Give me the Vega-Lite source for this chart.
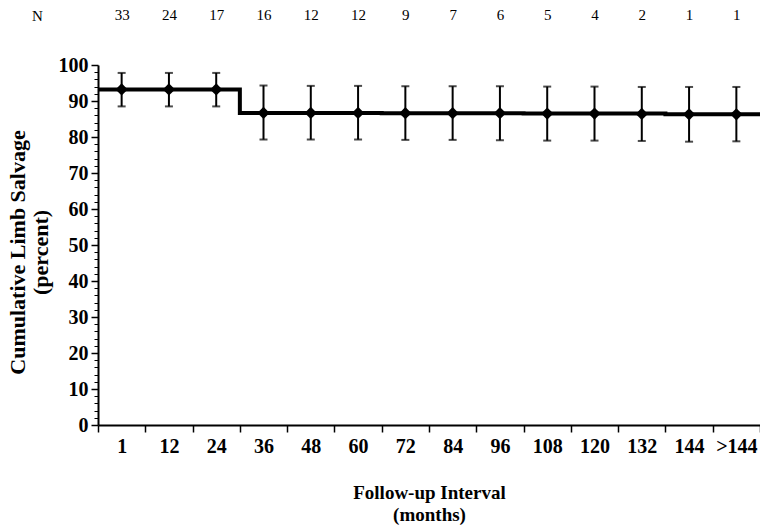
{
  "$schema": "https://vega.github.io/schema/vega-lite/v6.json",
  "width": 662,
  "height": 360,
  "autosize": "none",
  "padding": {"left": 98, "top": 65, "right": 0, "bottom": 102},
  "background": "white",
  "config": {
    "view": {"stroke": null},
    "font": "Liberation Serif",
    "axis": {"domainColor": "black", "tickColor": "black", "labelColor": "black", "titleColor": "black", "grid": false, "labelFont": "Liberation Serif", "titleFont": "Liberation Serif"}
  },
  "datasets": {
    "pts": [
      {"idx": 0, "interval": "1", "n": 33, "pct": 93.2, "lo": 88.5, "hi": 97.8},
      {"idx": 1, "interval": "12", "n": 24, "pct": 93.2, "lo": 88.5, "hi": 97.8},
      {"idx": 2, "interval": "24", "n": 17, "pct": 93.2, "lo": 88.5, "hi": 97.8},
      {"idx": 3, "interval": "36", "n": 16, "pct": 86.7, "lo": 79.3, "hi": 94.3},
      {"idx": 4, "interval": "48", "n": 12, "pct": 86.7, "lo": 79.3, "hi": 94.2},
      {"idx": 5, "interval": "60", "n": 12, "pct": 86.7, "lo": 79.3, "hi": 94.2},
      {"idx": 6, "interval": "72", "n": 9, "pct": 86.6, "lo": 79.2, "hi": 94.1},
      {"idx": 7, "interval": "84", "n": 7, "pct": 86.6, "lo": 79.2, "hi": 94.1},
      {"idx": 8, "interval": "96", "n": 6, "pct": 86.6, "lo": 79.1, "hi": 94.1},
      {"idx": 9, "interval": "108", "n": 5, "pct": 86.5, "lo": 79.0, "hi": 94.0},
      {"idx": 10, "interval": "120", "n": 4, "pct": 86.5, "lo": 79.0, "hi": 94.0},
      {"idx": 11, "interval": "132", "n": 2, "pct": 86.4, "lo": 78.9, "hi": 93.9},
      {"idx": 12, "interval": "144", "n": 1, "pct": 86.3, "lo": 78.7, "hi": 93.9},
      {"idx": 13, "interval": ">144", "n": 1, "pct": 86.3, "lo": 78.8, "hi": 93.9}
    ],
    "curve": [
      {"t": -0.5, "s": 93.2},
      {"t": 2.5, "s": 86.7},
      {"t": 5.5, "s": 86.6},
      {"t": 8.5, "s": 86.5},
      {"t": 11.5, "s": 86.3},
      {"t": 13.5, "s": 86.3}
    ]
  },
  "resolve": {"axis": {"x": "independent", "y": "independent"}},
  "layer": [
    {
      "data": {"name": "curve"},
      "mark": {"type": "line", "interpolate": "step-after", "color": "black", "strokeWidth": 4},
      "encoding": {
        "x": {"field": "t", "type": "quantitative", "scale": {"domain": [-0.5, 13.5], "nice": false, "zero": false},
          "axis": {"orient": "bottom", "values": [0,1,2,3,4,5,6,7,8,9,10,11,12,13],
            "labelExpr": "['1','12','24','36','48','60','72','84','96','108','120','132','144','>144'][datum.value]",
            "ticks": false, "domain": true, "domainWidth": 2, "labelFontSize": 20, "labelFontWeight": "bold", "labelPadding": 11,
            "title": ["Follow-up Interval", "(months)"], "titleFontSize": 19, "titleFontWeight": "bold", "titleLineHeight": 22,
            "titleX": 331, "titleY": 67, "titleBaseline": "middle", "titleAlign": "center"}},
        "y": {"field": "s", "type": "quantitative", "scale": {"domain": [0, 100], "nice": false},
          "axis": {"orient": "left", "values": [0,10,20,30,40,50,60,70,80,90,100], "tickSize": 7, "tickWidth": 1.5, "domainWidth": 2,
            "labelFontSize": 20, "labelFontWeight": "bold", "labelPadding": 3,
            "title": ["Cumulative Limb Salvage", "(percent)"], "titleFontSize": 22, "titleFontWeight": "bold", "titleLineHeight": 23,
            "titleAngle": -90, "titleX": -81, "titleY": 187, "titleBaseline": "middle", "titleAlign": "center"}}
      }
    },
    {
      "data": {"name": "pts"},
      "mark": {"type": "rule", "color": "black", "strokeWidth": 2},
      "encoding": {
        "x": {"field": "idx", "type": "quantitative",
          "axis": {"orient": "bottom", "values": [-0.5,0.5,1.5,2.5,3.5,4.5,5.5,6.5,7.5,8.5,9.5,10.5,11.5,12.5,13.5],
            "labels": false, "domain": false, "ticks": true, "tickSize": 7, "tickWidth": 1.5, "title": null}},
        "y": {"field": "lo", "type": "quantitative",
          "axis": {"orient": "left", "values": [2,4,6,8,12,14,16,18,22,24,26,28,32,34,36,38,42,44,46,48,52,54,56,58,62,64,66,68,72,74,76,78,82,84,86,88,92,94,96,98],
            "labels": false, "domain": false, "tickSize": 4, "tickWidth": 1, "title": null}},
        "y2": {"field": "hi"}
      }
    },
    {
      "data": {"name": "pts"},
      "mark": {"type": "point", "shape": "diamond", "filled": true, "color": "black", "size": 150, "opacity": 1},
      "encoding": {
        "x": {"field": "idx", "type": "quantitative",
          "axis": {"orient": "top", "values": [0,1,2,3,4,5,6,7,8,9,10,11,12,13],
            "labelExpr": "['33','24','17','16','12','12','9','7','6','5','4','2','1','1'][datum.value]",
            "domain": false, "ticks": false, "labelFontSize": 15, "labelPadding": 43,
            "title": "N", "titleFontSize": 15, "titleFontWeight": "normal", "titleAngle": 0, "titleX": -61, "titleY": -50, "titleBaseline": "middle", "titleAlign": "center"}},
        "y": {"field": "pct", "type": "quantitative", "axis": null}
      }
    },
    {
      "data": {"name": "pts"},
      "mark": {"type": "tick", "orient": "horizontal", "color": "black", "size": 8, "thickness": 2},
      "encoding": {
        "x": {"field": "idx", "type": "quantitative", "axis": null},
        "y": {"field": "lo", "type": "quantitative", "axis": null}
      }
    },
    {
      "data": {"name": "pts"},
      "mark": {"type": "tick", "orient": "horizontal", "color": "black", "size": 8, "thickness": 2},
      "encoding": {
        "x": {"field": "idx", "type": "quantitative", "axis": null},
        "y": {"field": "hi", "type": "quantitative", "axis": null}
      }
    }
  ]
}
